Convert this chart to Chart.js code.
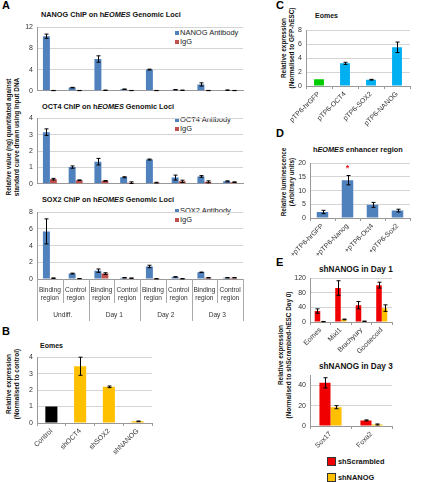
<!DOCTYPE html>
<html>
<head>
<meta charset="utf-8">
<script src="https://cdn.jsdelivr.net/npm/chart.js@4.4.0/dist/chart.umd.min.js"></script>
<style>
  body { margin:0; width:425px; height:482px; background:#fff; position:relative; overflow:hidden;
         font-family:'Liberation Sans', Arial, sans-serif; color:#111; }
  .abs { position:absolute; white-space:nowrap; line-height:1; }
  .letter { font-weight:bold; font-size:11px; color:#000; }
  .t { font-weight:bold; font-size:7.3px; }
  .lg { font-size:7.5px; color:#222; }
  .mk { position:absolute; width:4px; height:4px; }
  .yl { position:absolute; font-weight:bold; font-size:6.4px; line-height:8px; text-align:center;
        white-space:nowrap; transform:translate(-50%,-50%) rotate(-90deg); color:#111; }
  .sw { position:absolute; width:7px; height:7px; border:1px solid #333; }
  .lgE { font-weight:bold; font-size:7.4px; color:#111; }
</style>
</head>
<body>

<div class="abs letter" style="left:2px;top:0px">A</div>
<div class="abs letter" style="left:2px;top:326px">B</div>
<div class="abs letter" style="left:276px;top:0px">C</div>
<div class="abs letter" style="left:276px;top:128px">D</div>
<div class="abs letter" style="left:276px;top:257px">E</div>

<div class="abs t" style="left:41px;top:10.7px">NANOG ChIP on h<i>EOMES</i> Genomic Loci</div>
<div class="abs t" style="left:42px;top:103px">OCT4 ChIP on h<i>EOMES</i> Genomic Loci</div>
<div class="abs t" style="left:42px;top:196.3px">SOX2 ChIP on h<i>EOMES</i> Genomic Loci</div>
<div class="abs t" style="left:40px;top:342.4px;font-size:7px">Eomes</div>
<div class="abs t" style="left:315px;top:12.4px;font-size:7px">Eomes</div>
<div class="abs t" style="left:313px;top:146.3px">h<i>EOMES</i> enhancer region</div>
<div class="abs t" style="left:319px;top:265.6px;font-size:8.2px">shNANOG in Day 1</div>
<div class="abs t" style="left:319px;top:363.2px;font-size:8.2px">shNANOG in Day 3</div>

<div class="mk" style="left:175px;top:31px;background:#4F81BD"></div>
<div class="abs lg" style="left:180px;top:29.3px">NANOG Antibody</div>
<div class="mk" style="left:175px;top:39.5px;background:#C0504D"></div>
<div class="abs lg" style="left:180px;top:37.8px">IgG</div>
<div class="mk" style="left:175px;top:118px;background:#4F81BD"></div>
<div class="abs lg" style="left:180px;top:116.3px">OCT4 Antibody</div>
<div class="mk" style="left:175px;top:127px;background:#C0504D"></div>
<div class="abs lg" style="left:180px;top:125.3px">IgG</div>
<div class="mk" style="left:175px;top:209px;background:#4F81BD"></div>
<div class="abs lg" style="left:180px;top:207.3px">SOX2 Antibody</div>
<div class="mk" style="left:175px;top:217.5px;background:#C0504D"></div>
<div class="abs lg" style="left:180px;top:215.8px">IgG</div>

<div class="yl" style="left:13px;top:137px">Relative value (ng) quantitated against<br>standard curve drawn using Input DNA</div>
<div class="yl" style="left:12.5px;top:384px">Relative expression<br>(Normalised to control)</div>
<div class="yl" style="left:287.5px;top:48px">Relative expression<br>(Normalised to GFP-hESC)</div>
<div class="yl" style="left:288px;top:182px">Relative luminescence<br>(Arbitrary units)</div>
<div class="yl" style="left:285px;top:355px">Relative expression<br>(Normalised to shScrambled-hESC Day 0)</div>

<div class="sw" style="left:327px;top:457px;background:#F00000"></div>
<div class="abs lgE" style="left:338px;top:457.5px">shScrambled</div>
<div class="sw" style="left:327px;top:473px;background:#FFC000"></div>
<div class="abs lgE" style="left:338px;top:473.5px">shNANOG</div>

<script>
// ---- data ----
const chipCats = [['Binding','region'],['Control','region'],['Binding','region'],['Control','region'],
                  ['Binding','region'],['Control','region'],['Binding','region'],['Control','region']];
const chipGroups = ['Undiff.','Day 1','Day 2','Day 3'];

const nanogAb     = [10.3, 0.6, 6.0, 0.3, 4.0, 0.2, 1.2, 0.12];
const nanogAbErr  = [0.4, 0.05, 0.6, 0.04, 0.08, 0.03, 0.3, 0.03];
const nanogIgG    = [0.05, 0.05, 0.1, 0.05, 0.05, 0.1, 0.05, 0.05];
const nanogIgGErr = [0.02, 0.02, 0.03, 0.02, 0.02, 0.03, 0.02, 0.02];

const oct4Ab      = [3.15, 1.02, 1.35, 0.4, 1.48, 0.38, 0.45, 0.15];
const oct4AbErr   = [0.2, 0.07, 0.2, 0.03, 0.03, 0.15, 0.05, 0.03];
const oct4IgG     = [0.28, 0.22, 0.18, 0.07, 0.07, 0.15, 0.12, 0.1];
const oct4IgGErr  = [0.05, 0.02, 0.02, 0.05, 0.02, 0.07, 0.06, 0.02];

const sox2Ab      = [5.7, 0.65, 1.0, 0.15, 1.5, 0.25, 0.8, 0.15];
const sox2AbErr   = [1.5, 0.05, 0.2, 0.03, 0.15, 0.03, 0.03, 0.03];
const sox2IgG     = [0.1, 0.05, 0.65, 0.1, 0.03, 0.03, 0.15, 0.15];
const sox2IgGErr  = [0.03, 0.01, 0.1, 0.02, 0.01, 0.01, 0.03, 0.02];

const bCats   = ['Control','shOCT4','shSOX2','shNANOG'];
const bVals   = [1.0, 3.45, 2.2, 0.1];
const bErr    = [0, 0.55, 0.05, 0.02];
const bColors = ['#000000','#FFC000','#FFC000','#FFC000'];

const cCats   = ['pTP6-hrGFP','pTP6-OCT4','pTP6-SOX2','pTP6-NANOG'];
const cVals   = [0.97, 3.25, 0.9, 5.55];
const cErr    = [0, 0.15, 0.05, 0.75];
const cColors = ['#00CC00','#00B0F0','#00B0F0','#00B0F0'];

const dCats = ['+pTP6-hrGFP','+pTP6-Nanog','+pTP6-Oct4','+pTP6-Sox2'];
const dVals = [2.2, 13.8, 4.8, 2.7];
const dErr  = [0.6, 1.7, 0.9, 0.5];

const e1Cats   = ['Eomes','Mixl1','Brachyury','Goosecoid'];
const e1Scr    = [30, 93, 46, 101];
const e1ScrErr = [6, 20, 10, 8];
const e1Nan    = [1, 7, 2, 38];
const e1NanErr = [0.5, 1, 0.5, 9];

const e2Cats   = ['Sox17','Foxa2'];
const e2Scr    = [42.5, 5.5];
const e2ScrErr = [5, 0.5];
const e2Nan    = [18.5, 1.5];
const e2NanErr = [1.5, 0.5];

// ---- helpers ----
Chart.defaults.font.family = "'Liberation Sans', Arial, sans-serif";
Chart.defaults.font.size = 7;
Chart.defaults.color = '#333';
const tickFont = { size: 7 };

const errorBars = {
  id: 'errorBars',
  afterDatasetsDraw(chart) {
    const ctx = chart.ctx, y = chart.scales.y;
    chart.data.datasets.forEach((ds, i) => {
      if (!ds.errors) return;
      chart.getDatasetMeta(i).data.forEach((bar, j) => {
        const v = ds.data[j], e = ds.errors[j];
        if (!e) return;
        const x = Math.round(bar.x) + 0.5;
        const top = y.getPixelForValue(v + e), bot = y.getPixelForValue(Math.max(v - e, 0));
        ctx.save();
        ctx.strokeStyle = '#000';
        ctx.lineWidth = 1;
        ctx.beginPath();
        ctx.moveTo(x, top); ctx.lineTo(x, bot);
        ctx.moveTo(x - 2, top); ctx.lineTo(x + 2, top);
        ctx.moveTo(x - 2, bot); ctx.lineTo(x + 2, bot);
        ctx.stroke();
        ctx.restore();
      });
    });
  }
};
Chart.register(errorBars);

function place(left, top, w, h) {
  const c = document.createElement('canvas');
  c.width = w; c.height = h;
  c.style.cssText = 'position:absolute;left:' + left + 'px;top:' + top + 'px;width:' + w + 'px;height:' + h + 'px';
  document.body.appendChild(c);
  return c;
}

function yAxis(max, step, width) {
  return {
    min: 0, max: max,
    ticks: { stepSize: step, font: tickFont, color: '#333', padding: 4 },
    grid: { color: '#d4d4d4', drawTicks: false },
    border: { color: '#999' },
    afterFit: s => { s.width = width; }
  };
}

function xPlain() {
  return {
    ticks: { display: false },
    grid: { display: false },
    border: { color: '#999' },
    afterFit: s => { s.height = 0; }
  };
}

function xRot(height) {
  return {
    ticks: { font: tickFont, color: '#333', minRotation: 45, maxRotation: 45, autoSkip: false, padding: 1 },
    grid: { offset: true, drawOnChartArea: false, tickLength: 3, color: '#999' },
    border: { color: '#999' },
    afterFit: s => { s.height = height; }
  };
}

function baseOpts(scales, padRight, padBottom) {
  return {
    responsive: false,
    animation: false,
    layout: { padding: { top: 5, right: padRight, bottom: padBottom || 0, left: 0 } },
    plugins: { legend: { display: false }, tooltip: { enabled: false } },
    scales: scales
  };
}

function chipChart(canvas, ab, abErr, igg, iggErr, max, step, scales, padBottom, extra) {
  return new Chart(canvas, {
    type: 'bar',
    data: {
      labels: chipCats,
      datasets: [
        { label: 'Antibody', data: ab, errors: abErr, backgroundColor: '#4F81BD',
          categoryPercentage: 0.54, barPercentage: 1 },
        { label: 'IgG', data: igg, errors: iggErr, backgroundColor: '#C0504D',
          categoryPercentage: 0.54, barPercentage: 1 }
      ]
    },
    options: baseOpts(Object.assign({ y: yAxis(max, step, 37) }, scales), 2, padBottom),
    plugins: extra || []
  });
}

// category + group labels under the SOX2 chart, with the divider lines
const groupLabels = {
  id: 'groupLabels',
  afterDraw(chart) {
    const x = chart.scales.x, ca = chart.chartArea, ctx = chart.ctx;
    const n = chipCats.length;
    ctx.save();
    ctx.strokeStyle = '#aaa';
    ctx.lineWidth = 1;
    ctx.beginPath();
    for (let i = 0; i <= n; i++) {
      let px = i === 0 ? ca.left : i === n ? ca.right : (x.getPixelForValue(i - 1) + x.getPixelForValue(i)) / 2;
      px = Math.round(px) + 0.5;
      ctx.moveTo(px, ca.bottom);
      ctx.lineTo(px, ca.bottom + (i % 2 === 0 ? 42 : 24));
    }
    ctx.stroke();
    ctx.fillStyle = '#333';
    ctx.font = "6.6px 'Liberation Sans', Arial, sans-serif";
    ctx.textAlign = 'center';
    ctx.textBaseline = 'middle';
    chipCats.forEach((lines, i) => {
      const px = x.getPixelForValue(i);
      lines.forEach((t, k) => ctx.fillText(t, px, ca.bottom + 11 + k * 8));
    });
    chipGroups.forEach((g, k) => {
      const px = (x.getPixelForValue(2 * k) + x.getPixelForValue(2 * k + 1)) / 2;
      ctx.fillText(g, px, ca.bottom + 36);
    });
    ctx.restore();
  }
};

// ---- panel A ----
chipChart(place(0, 19, 245, 80), nanogAb, nanogAbErr, nanogIgG, nanogIgGErr, 12, 4, { x: xPlain() }, 5);
chipChart(place(0, 110, 245, 82), oct4Ab, oct4AbErr, oct4IgG, oct4IgGErr, 4, 1, { x: xPlain() }, 5);
chipChart(place(0, 204, 245, 118), sox2Ab, sox2AbErr, sox2IgG, sox2IgGErr, 8, 2, {
  x: {
    ticks: { display: false },
    grid: { display: false },
    border: { color: '#999' },
    afterFit: s => { s.height = 43; }
  }
}, 0, [groupLabels]);

// ---- panel B ----
new Chart(place(0, 349, 155, 119), {
  type: 'bar',
  data: { labels: bCats, datasets: [{ data: bVals, errors: bErr, backgroundColor: bColors,
          categoryPercentage: 1, barPercentage: 0.42 }] },
  options: baseOpts({ y: yAxis(4, 1, 37), x: xRot(45) }, 3)
});

// ---- panel C ----
new Chart(place(270, 22, 142, 109), {
  type: 'bar',
  data: { labels: cCats, datasets: [{ data: cVals, errors: cErr, backgroundColor: cColors,
          categoryPercentage: 1, barPercentage: 0.38 }] },
  options: baseOpts({ y: yAxis(8, 2, 36), x: xRot(45) }, 2)
});

// ---- panel D ----
const starMark = {
  id: 'starMark',
  afterDatasetsDraw(chart) {
    const ctx = chart.ctx, y = chart.scales.y;
    const bar = chart.getDatasetMeta(0).data[1];
    ctx.save();
    ctx.fillStyle = '#E02020';
    ctx.font = "bold 9px 'Liberation Sans', Arial";
    ctx.textAlign = 'center';
    ctx.textBaseline = 'middle';
    ctx.fillText('*', bar.x, y.getPixelForValue(dVals[1] + dErr[1]) - 7);
    ctx.restore();
  }
};

new Chart(place(270, 155, 142, 108), {
  type: 'bar',
  data: { labels: dCats, datasets: [{ data: dVals, errors: dErr, backgroundColor: '#4F81BD',
          categoryPercentage: 1, barPercentage: 0.46 }] },
  options: baseOpts({ y: yAxis(20, 5, 40), x: xRot(45) }, 2),
  plugins: [starMark]
});

// ---- panel E ----
new Chart(place(270, 270, 124, 90), {
  type: 'bar',
  data: { labels: e1Cats, datasets: [
    { data: e1Scr, errors: e1ScrErr, backgroundColor: '#F00000', categoryPercentage: 0.54, barPercentage: 1 },
    { data: e1Nan, errors: e1NanErr, backgroundColor: '#FFC000', categoryPercentage: 0.54, barPercentage: 1 }
  ] },
  options: baseOpts({ y: yAxis(120, 40, 40), x: xRot(38) }, 2)
});

new Chart(place(270, 367, 124, 89), {
  type: 'bar',
  data: { labels: e2Cats, datasets: [
    { data: e2Scr, errors: e2ScrErr, backgroundColor: '#F00000', categoryPercentage: 0.54, barPercentage: 1 },
    { data: e2Nan, errors: e2NanErr, backgroundColor: '#FFC000', categoryPercentage: 0.54, barPercentage: 1 }
  ] },
  options: baseOpts({ y: yAxis(50, 10, 40), x: xRot(30) }, 2)
});
</script>
</body>
</html>
